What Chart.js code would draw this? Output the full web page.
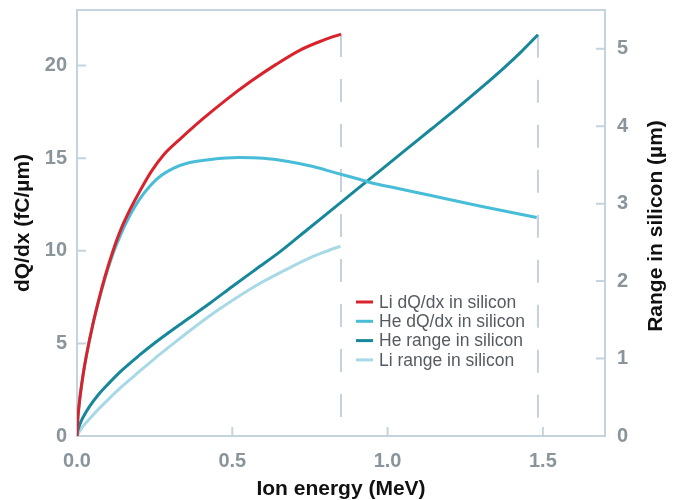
<!DOCTYPE html>
<html>
<head>
<meta charset="utf-8">
<script src="https://cdn.jsdelivr.net/npm/chart.js@4.4.1/dist/chart.umd.min.js"></script>
<style>
  html, body { margin: 0; padding: 0; background: #fff; }
  #wrap { width: 676px; height: 500px; }
</style>
</head>
<body>
<div id="wrap"><canvas id="chart"></canvas></div>
<script>
// ion energy (MeV) and values
const liDqdxE = [0, 0.002, 0.005, 0.01, 0.02, 0.03, 0.05, 0.07, 0.09, 0.115, 0.14, 0.17, 0.20, 0.24, 0.28, 0.33, 0.40, 0.48, 0.56, 0.64, 0.72, 0.79, 0.85];
const liDqdx  = [0, 0.78, 1.39, 2.16, 3.35, 4.32, 5.95, 7.35, 8.6, 9.95, 11.1, 12.2, 13.15, 14.3, 15.2, 16.0, 17.05, 18.15, 19.15, 20.05, 20.85, 21.35, 21.7];

const heDqdxE = [0, 0.002, 0.005, 0.01, 0.02, 0.03, 0.05, 0.07, 0.09, 0.115, 0.14, 0.17, 0.20, 0.235, 0.27, 0.31, 0.36, 0.43, 0.52, 0.60, 0.68, 0.76, 0.83, 0.90, 0.96, 1.03, 1.14, 1.30, 1.48];
const heDqdx  = [0, 0.78, 1.39, 2.16, 3.35, 4.32, 5.95, 7.3, 8.5, 9.8, 10.85, 11.9, 12.75, 13.5, 14.05, 14.45, 14.75, 14.93, 15.03, 15.0, 14.82, 14.55, 14.22, 13.9, 13.62, 13.38, 12.98, 12.4, 11.8];

// ranges in µm (right axis)
const heRangeE = [0, 0.002, 0.005, 0.01, 0.02, 0.04, 0.07, 0.10, 0.145, 0.20, 0.25, 0.30, 0.36, 0.43, 0.50, 0.575, 0.654, 0.74, 0.82, 0.90, 0.98, 1.06, 1.14, 1.22, 1.30, 1.374, 1.43, 1.484];
const heRange  = [0, 0.06, 0.10, 0.16, 0.245, 0.38, 0.54, 0.67, 0.85, 1.04, 1.2, 1.35, 1.52, 1.72, 1.93, 2.15, 2.38, 2.66, 2.92, 3.18, 3.44, 3.70, 3.96, 4.22, 4.49, 4.75, 4.96, 5.18];

const liRangeE = [0, 0.005, 0.01, 0.02, 0.04, 0.07, 0.10, 0.145, 0.20, 0.25, 0.30, 0.36, 0.43, 0.50, 0.58, 0.664, 0.75, 0.80, 0.848];
const liRange  = [0, 0.04, 0.07, 0.127, 0.22, 0.35, 0.47, 0.64, 0.83, 1.0, 1.16, 1.35, 1.56, 1.75, 1.95, 2.13, 2.30, 2.38, 2.45];

const xTicks = [0, 0.5, 1.0, 1.5];
const leftTicks = [0, 5, 10, 15, 20];
const rightTicks = [0, 1, 2, 3, 4, 5];

const seriesLabels = ['Li dQ/dx in silicon', 'He dQ/dx in silicon', 'He range in silicon', 'Li range in silicon'];
const seriesColors = ['#d9232c', '#47bdd7', '#17889a', '#a8d9e6'];

const frameColor = '#c5d3dc';
const tickColor = '#8a949b';
const FONT = "'Liberation Sans', Arial, Helvetica, sans-serif";

const toPoints = (xs, ys) => xs.map((x, i) => ({ x: x, y: ys[i] }));
const last = a => a[a.length - 1];

// box around the plot + short inward tick marks
const frameTicks = {
  id: 'frameTicks',
  beforeDatasetsDraw(chart) {
    const { ctx, chartArea: a, scales } = chart;
    ctx.save();
    ctx.strokeStyle = frameColor;
    ctx.lineWidth = 2;
    ctx.strokeRect(a.left, a.top, a.right - a.left, a.bottom - a.top);
    ctx.beginPath();
    xTicks.filter(v => v > 0).forEach(v => {
      const px = scales.x.getPixelForValue(v);
      ctx.moveTo(px, a.bottom); ctx.lineTo(px, a.bottom - 9);
    });
    leftTicks.filter(v => v > 0).forEach(v => {
      const py = scales.y.getPixelForValue(v);
      ctx.moveTo(a.left, py); ctx.lineTo(a.left + 9, py);
    });
    rightTicks.filter(v => v > 0).forEach(v => {
      const py = scales.y1.getPixelForValue(v);
      ctx.moveTo(a.right, py); ctx.lineTo(a.right - 9, py);
    });
    ctx.stroke();
    ctx.restore();
  }
};

// legend inside the plot, plus the right axis title reading bottom-to-top
const extras = {
  id: 'extras',
  afterDatasetsDraw(chart) {
    const { ctx, chartArea: a } = chart;
    ctx.save();
    ctx.font = '17.5px ' + FONT;
    ctx.textBaseline = 'middle';
    ctx.textAlign = 'left';
    seriesLabels.forEach((label, i) => {
      const y = 302 + i * 19.3;
      ctx.strokeStyle = seriesColors[i];
      ctx.lineWidth = 3;
      ctx.beginPath();
      ctx.moveTo(356, y); ctx.lineTo(373, y);
      ctx.stroke();
      ctx.fillStyle = '#555b60';
      ctx.fillText(label, 379, y + 1);
    });

    ctx.translate(656, (a.top + a.bottom) / 2 + 3);
    ctx.rotate(-Math.PI / 2);
    ctx.font = 'bold 21px ' + FONT;
    ctx.textAlign = 'center';
    ctx.fillStyle = '#111';
    ctx.fillText('Range in silicon (µm)', 0, 0);
    ctx.restore();
  }
};

const lineSet = (i, pts, axis) => ({
  label: seriesLabels[i],
  data: pts,
  yAxisID: axis,
  borderColor: seriesColors[i],
  borderWidth: 3,
  pointRadius: 0,
  fill: false,
  cubicInterpolationMode: 'monotone'
});

const dashSet = (x, top, axis) => ({
  label: '',
  data: [{ x: x, y: top }, { x: x, y: 0 }],
  yAxisID: axis,
  borderColor: '#c3d2dc',
  borderWidth: 2,
  borderDash: [23, 22],
  pointRadius: 0,
  fill: false
});

const tickFont = { family: FONT, size: 20, weight: 'bold' };
const noGrid = { display: false, drawTicks: false };
const noPad = s => { s.paddingTop = 0; s.paddingBottom = 0; s.paddingLeft = 0; s.paddingRight = 0; };

new Chart(document.getElementById('chart'), {
  type: 'line',
  data: {
    datasets: [
      lineSet(0, toPoints(liDqdxE, liDqdx), 'y'),
      lineSet(1, toPoints(heDqdxE, heDqdx), 'y'),
      lineSet(2, toPoints(heRangeE, heRange), 'y1'),
      lineSet(3, toPoints(liRangeE, liRange), 'y1'),
      dashSet(last(liDqdxE), last(liDqdx), 'y'),
      dashSet(last(heRangeE), last(heRange), 'y1')
    ]
  },
  options: {
    responsive: true,
    maintainAspectRatio: false,
    animation: false,
    layout: { padding: { top: 10, left: 0, right: 0, bottom: 0 } },
    plugins: {
      legend: { display: false },
      tooltip: { enabled: false }
    },
    scales: {
      x: {
        type: 'linear',
        min: 0,
        max: 1.7,
        afterBuildTicks: s => { s.ticks = xTicks.map(v => ({ value: v })); },
        afterFit: s => { s.height = 64; noPad(s); },
        grid: noGrid,
        border: { display: false },
        ticks: {
          font: tickFont, color: tickColor, padding: 13,
          maxRotation: 0, autoSkip: false,
          callback: v => Number(v).toFixed(1)
        },
        title: {
          display: true, text: 'Ion energy (MeV)',
          font: { family: FONT, size: 21, weight: 'bold', lineHeight: 1.0 }, color: '#111',
          padding: { top: 0, bottom: 0 }
        }
      },
      y: {
        position: 'left',
        min: 0,
        max: 23,
        afterBuildTicks: s => { s.ticks = leftTicks.map(v => ({ value: v })); },
        afterFit: s => { s.width = 77; noPad(s); },
        grid: noGrid,
        border: { display: false },
        ticks: { font: tickFont, color: tickColor, padding: 10 },
        title: {
          display: true, text: 'dQ/dx (fC/µm)',
          font: { family: FONT, size: 21, weight: 'bold', lineHeight: 1.1 }, color: '#111',
          padding: { top: 12, bottom: 0 }
        }
      },
      y1: {
        position: 'right',
        min: 0,
        max: 5.5,
        afterBuildTicks: s => { s.ticks = rightTicks.map(v => ({ value: v })); },
        afterFit: s => { s.width = 71; noPad(s); },
        grid: noGrid,
        border: { display: false },
        ticks: { font: tickFont, color: tickColor, padding: 12 },
        title: { display: false }
      }
    }
  },
  plugins: [frameTicks, extras]
});
</script>
</body>
</html>
